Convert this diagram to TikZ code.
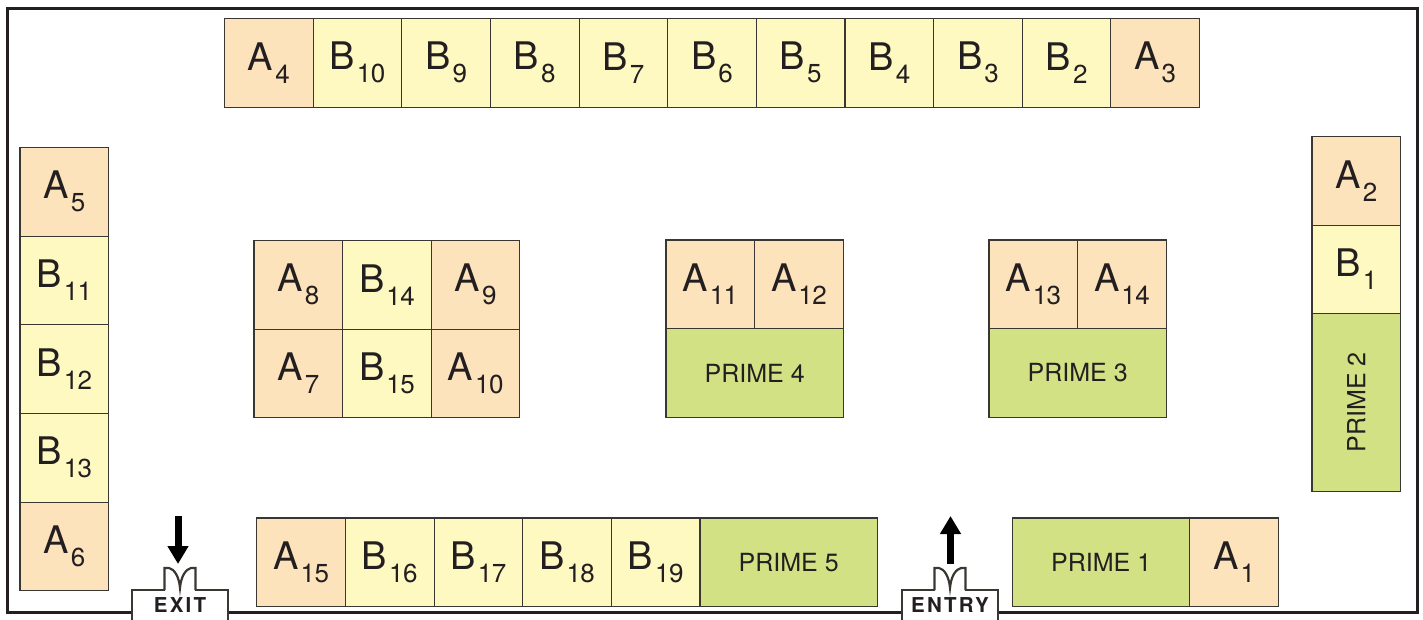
\documentclass[tikz,border=0pt]{standalone}
\usepackage{graphicx}
\usepackage{fontspec}
\setmainfont{TeX Gyre Heros}
\newfontfamily\doorfont[LetterSpace=11]{TeX Gyre Heros}
\newfontfamily\numfont[LetterSpace=-2]{TeX Gyre Heros}
\usetikzlibrary{arrows.meta, positioning}

\definecolor{slotA}{HTML}{FDE3BB}
\definecolor{slotB}{HTML}{FEF8C1}
\definecolor{slotP}{HTML}{D3E185}
\definecolor{inkline}{HTML}{3A3733}
\definecolor{inktext}{HTML}{231F20}

% big letter with a dropped number
\newcommand{\slotname}[2]{#1\hspace{2pt}\raisebox{-13pt}{\numfont\fontsize{26}{26}\selectfont #2}}

\tikzset{
  pics/doortop/.style={code={
    \fill[white] (-14.8,1) rectangle (14.8,-1);
    \draw[line width=2.2pt, draw=inkline] (-15.5,0) -- (-15.5,-22) -- (-11,-22)
      .. controls (-6,-21) and (-1,-14) .. (0,-2)
      .. controls (1,-14) and (6,-21) .. (11,-22) -- (15.5,-22) -- (15.5,0);
  }}
}

\begin{document}
\begin{tikzpicture}[
    x=1pt, y=-1pt,
    node distance=0pt,
    slot/.style={rectangle, draw=inkline, line width=1.1pt, inner sep=0pt, outer sep=0pt, text=inktext, align=center, minimum width=88.64pt, minimum height=88.64pt, font=\fontsize{38}{38}\selectfont},
    aslot/.style={slot, fill=slotA},
    bslot/.style={slot, fill=slotB},
    prime/.style={slot, fill=slotP, font=\fontsize{25}{25}\selectfont},
    widebox/.style={minimum width=177.3pt},
    tallbox/.style={minimum height=177.3pt},
    door/.style={rectangle, draw=inkline, fill=white, line width=2.2pt, inner sep=0pt, outer sep=0pt, text=inktext, minimum width=96pt, minimum height=40pt, text depth=10pt, anchor=north, font=\doorfont\bfseries\fontsize{20.5}{20.5}\selectfont},
    flow/.style={line width=7pt, black, -{Triangle[length=18pt, width=20pt]}}
  ]
    \useasboundingbox (0,0) rectangle (1423,619);
    \node[rectangle, draw=inktext, line width=3pt, minimum width=1410pt, minimum height=604pt, anchor=north west, outer sep=0pt] (floor) at (7,8) {};

    % top row
    \node[aslot, anchor=north west] (a4) at (224.5,18.5) {\slotname{A}{4}};
    \node[bslot, right=of a4] (b10) {\slotname{B}{10}};
    \node[bslot, right=of b10] (b9) {\slotname{B}{9}};
    \node[bslot, right=of b9] (b8) {\slotname{B}{8}};
    \node[bslot, right=of b8] (b7) {\slotname{B}{7}};
    \node[bslot, right=of b7] (b6) {\slotname{B}{6}};
    \node[bslot, right=of b6] (b5) {\slotname{B}{5}};
    \node[bslot, right=of b5] (b4) {\slotname{B}{4}};
    \node[bslot, right=of b4] (b3) {\slotname{B}{3}};
    \node[bslot, right=of b3] (b2) {\slotname{B}{2}};
    \node[aslot, right=of b2] (a3) {\slotname{A}{3}};

    % left column
    \node[aslot, anchor=north west] (a5) at (20,147.5) {\slotname{A}{5}};
    \node[bslot, below=of a5] (b11) {\slotname{B}{11}};
    \node[bslot, below=of b11] (b12) {\slotname{B}{12}};
    \node[bslot, below=of b12] (b13) {\slotname{B}{13}};
    \node[aslot, below=of b13] (a6) {\slotname{A}{6}};

    % right column
    \node[aslot, anchor=north west] (a2) at (1312,136.5) {\slotname{A}{2}};
    \node[bslot, below=of a2] (b1) {\slotname{B}{1}};
    \node[prime, tallbox, below=of b1] (prime2) {\rotatebox{90}{PRIME 2}};

    % middle blocks
    \node[aslot, anchor=north west] (a8) at (254,240.5) {\slotname{A}{8}};
    \node[bslot, right=of a8] (b14) {\slotname{B}{14}};
    \node[aslot, right=of b14] (a9) {\slotname{A}{9}};
    \node[aslot, below=of a8] (a7) {\slotname{A}{7}};
    \node[bslot, right=of a7] (b15) {\slotname{B}{15}};
    \node[aslot, right=of b15] (a10) {\slotname{A}{10}};

    \node[aslot, anchor=north west] (a11) at (666,240) {\slotname{A}{11}};
    \node[aslot, right=of a11] (a12) {\slotname{A}{12}};
    \node[prime, widebox, anchor=north west] (prime4) at (a11.south west) {PRIME 4};

    \node[aslot, anchor=north west] (a13) at (989,240) {\slotname{A}{13}};
    \node[aslot, right=of a13] (a14) {\slotname{A}{14}};
    \node[prime, widebox, anchor=north west] (prime3) at (a13.south west) {PRIME 3};

    % bottom row
    \node[aslot, anchor=north west] (a15) at (256.8,518) {\slotname{A}{15}};
    \node[bslot, right=of a15] (b16) {\slotname{B}{16}};
    \node[bslot, right=of b16] (b17) {\slotname{B}{17}};
    \node[bslot, right=of b17] (b18) {\slotname{B}{18}};
    \node[bslot, right=of b18] (b19) {\slotname{B}{19}};
    \node[prime, widebox, right=of b19] (prime5) {PRIME 5};

    \node[prime, widebox, anchor=north west] (prime1) at (1012.5,518) {PRIME 1};
    \node[aslot, right=of prime1] (a1) {\slotname{A}{1}};

    % doors
    \node[door] (exit) at (180,590) {EXIT};
    \pic at (exit.north) {doortop};
    \node[door] (entry) at (950,590) {ENTRY};
    \pic at (entry.north) {doortop};

    \coordinate (exitfrom) at (178,516);
    \coordinate (exitto) at (178,564);
    \coordinate (entryfrom) at (950.5,564);
    \coordinate (entryto) at (950.5,516);
    \draw[flow] (exitfrom) -- (exitto);
    \draw[flow] (entryfrom) -- (entryto);
  \end{tikzpicture}
\end{document}
